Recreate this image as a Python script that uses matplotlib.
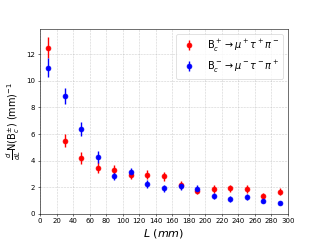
import numpy as np
import matplotlib
matplotlib.use('Agg')
import matplotlib.pyplot as plt

L = np.arange(10, 300, 20)

# B_c^+ -> mu+ tau+ pi-
n_plus = [12.5, 5.5, 4.17, 3.47, 3.3, 2.94, 2.94, 2.8, 2.16, 1.74, 1.86, 1.91, 1.86, 1.31, 1.66]
e_plus = [0.8, 0.5, 0.45, 0.4, 0.35, 0.33, 0.33, 0.32, 0.3, 0.28, 0.28, 0.28, 0.27, 0.22, 0.25]

# B_c^- -> mu- tau- pi+
n_minus = [11.0, 8.88, 6.39, 4.25, 2.85, 3.12, 2.21, 1.91, 2.06, 1.86, 1.33, 1.1, 1.26, 0.96, 0.81]
e_minus = [0.7, 0.6, 0.55, 0.45, 0.35, 0.35, 0.3, 0.28, 0.28, 0.28, 0.22, 0.2, 0.2, 0.18, 0.15]

fig, ax = plt.subplots(figsize=(6.4, 4.8), dpi=50)
ax.errorbar(L, n_plus, yerr=e_plus, fmt='ro', ms=7, elinewidth=2,
            label=r'B$_c^+\to\mu^+\tau^+\pi^-$')
ax.errorbar(L, n_minus, yerr=e_minus, fmt='bo', ms=7, elinewidth=2,
            label=r'B$_c^-\to\mu^-\tau^-\pi^+$')
ax.set_xlim(0, 300)
ax.set_ylim(bottom=0)
ax.set_xticks(np.arange(0, 301, 20))
ax.grid(ls='--', alpha=0.6)
ax.set_xlabel(r'$L\ (mm)$', fontsize=16)
ax.set_ylabel(r'$\frac{d}{dL}$N(B$_c^{\pm}$) (mm)$^{-1}$', fontsize=14)
ax.legend(loc='upper right', fontsize=14)
fig.savefig('out.png', dpi=50)
